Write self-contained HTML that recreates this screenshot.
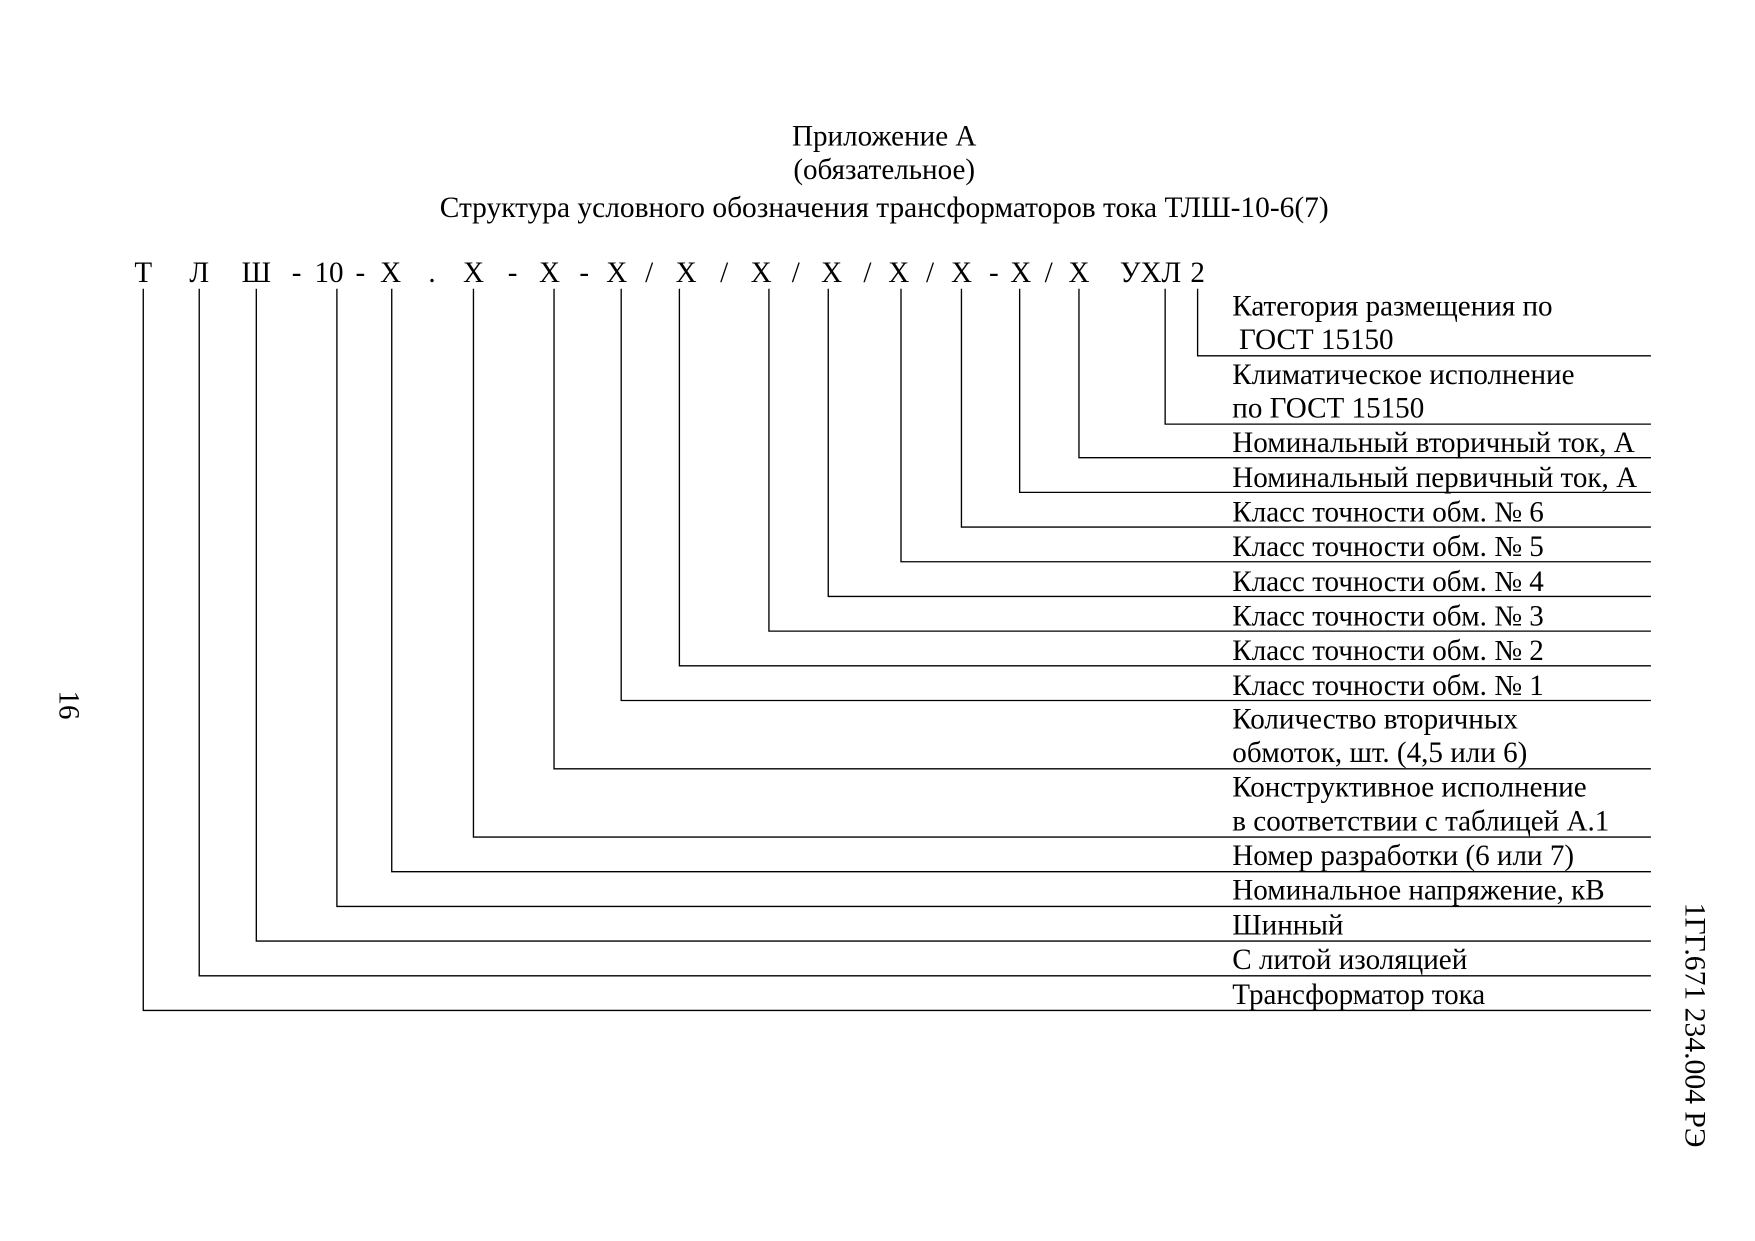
<!DOCTYPE html>
<html><head><meta charset="utf-8"><style>
html,body{margin:0;padding:0;background:#fff;}
svg{display:block;}
text{font-family:"Liberation Serif",serif;fill:#000;}
</style></head><body>
<svg width="1755" height="1241" viewBox="0 0 1568 1109" preserveAspectRatio="none">
<g font-size="26" text-anchor="middle">
<text x="790" y="130">Приложение А</text>
<text x="790" y="160">(обязательное)</text>
<text x="790" y="194" font-size="26.3">Структура условного обозначения трансформаторов тока ТЛШ-10-6(7)</text>
</g>
<g font-size="26" text-anchor="middle">
<text x="128" y="252">Т</text><text x="178" y="252">Л</text><text x="229" y="252">Ш</text>
<text x="265" y="252">-</text><text x="294" y="252">10</text><text x="322" y="252">-</text>
<text x="349" y="252">Х</text><text x="386" y="252">.</text><text x="423" y="252">Х</text>
<text x="458" y="252">-</text><text x="491" y="252">Х</text><text x="522" y="252">-</text>
<text x="551" y="252">Х</text><text x="580" y="252">/</text><text x="613" y="252">Х</text>
<text x="647" y="252">/</text><text x="680" y="252">Х</text><text x="711" y="252">/</text>
<text x="743" y="252">Х</text><text x="775" y="252">/</text><text x="803" y="252">Х</text>
<text x="831" y="252">/</text><text x="859" y="252">Х</text><text x="888" y="252">-</text>
<text x="912" y="252">Х</text><text x="937" y="252">/</text><text x="964" y="252">Х</text>
<text x="1028" y="252">УХЛ</text><text x="1070" y="252">2</text>
</g>
<g stroke="#000" stroke-width="1.2" fill="none">
<polyline points="1070,258 1070,318 1475,318"/>
<polyline points="1041,258 1041,379 1475,379"/>
<polyline points="964,258 964,409 1475,409"/>
<polyline points="911,258 911,440 1475,440"/>
<polyline points="859,258 859,471 1475,471"/>
<polyline points="805,258 805,502 1475,502"/>
<polyline points="740,258 740,533 1475,533"/>
<polyline points="687,258 687,564 1475,564"/>
<polyline points="607,258 607,595 1475,595"/>
<polyline points="555,258 555,626 1475,626"/>
<polyline points="495,258 495,687 1475,687"/>
<polyline points="423,258 423,748 1475,748"/>
<polyline points="350,258 350,779 1475,779"/>
<polyline points="301,258 301,810 1475,810"/>
<polyline points="229,258 229,841 1475,841"/>
<polyline points="178,258 178,872 1475,872"/>
<polyline points="128,258 128,903 1475,903"/>
</g>
<g font-size="26">
<text x="1101" y="282">Категория размещения по</text>
<text x="1107" y="312">ГОСТ 15150</text>
<text x="1101" y="343">Климатическое исполнение</text>
<text x="1101" y="373">по ГОСТ 15150</text>
<text x="1101" y="404">Номинальный вторичный ток, А</text>
<text x="1101" y="435">Номинальный первичный ток, А</text>
<text x="1101" y="466">Класс точности обм. № 6</text>
<text x="1101" y="497">Класс точности обм. № 5</text>
<text x="1101" y="528">Класс точности обм. № 4</text>
<text x="1101" y="559">Класс точности обм. № 3</text>
<text x="1101" y="590">Класс точности обм. № 2</text>
<text x="1101" y="621">Класс точности обм. № 1</text>
<text x="1101" y="651">Количество вторичных</text>
<text x="1101" y="681">обмоток, шт. (4,5 или 6)</text>
<text x="1101" y="712">Конструктивное исполнение</text>
<text x="1101" y="742">в соответствии с таблицей А.1</text>
<text x="1101" y="773">Номер разработки (6 или 7)</text>
<text x="1101" y="804">Номинальное напряжение, кВ</text>
<text x="1101" y="835">Шинный</text>
<text x="1101" y="866">С литой изоляцией</text>
<text x="1101" y="897">Трансформатор тока</text>
</g>
<text font-size="26" text-anchor="middle" transform="translate(53,630) rotate(90)">16</text>
<text font-size="26.5" text-anchor="middle" transform="translate(1506,916) rotate(90)">1ГГ.671 234.004 РЭ</text>
</svg>
</body></html>
